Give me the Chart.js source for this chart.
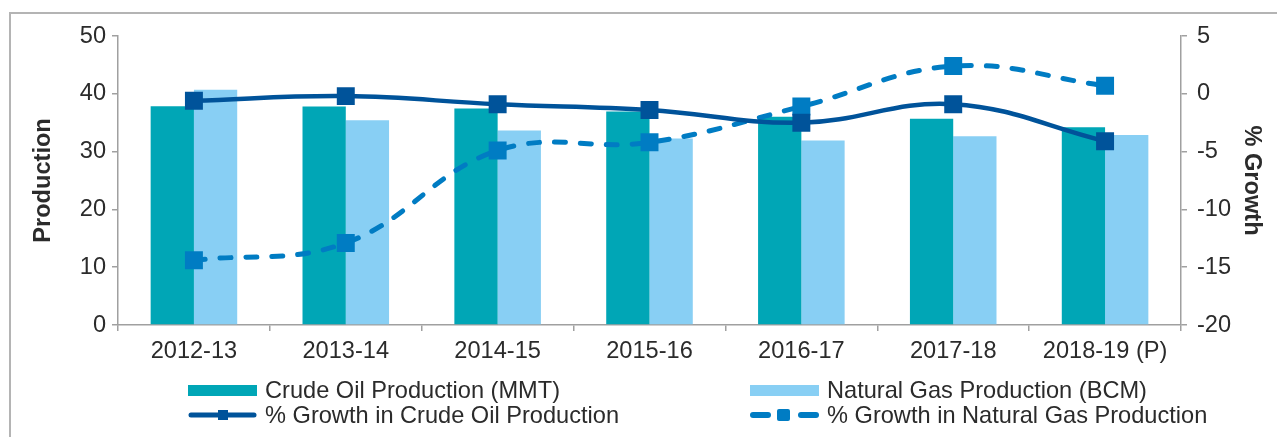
<!DOCTYPE html>
<html>
<head>
<meta charset="utf-8">
<script src="https://cdn.jsdelivr.net/npm/chart.js@4"></script>
<style>
  html, body { margin: 0; padding: 0; background: #fff; overflow: hidden; }
  #wrap { position: relative; width: 1277px; height: 437px; font-family: "Liberation Sans", Arial, sans-serif; color: #2b2b2b; }
  #frame { position: absolute; left: 9px; top: 12px; width: 1400px; height: 600px; border: 2px solid #b4b4b4; box-sizing: border-box; }
  #myChart { position: absolute; left: 0; top: 0; }
  .leg { position: absolute; font-size: 23.6px; line-height: 26px; white-space: nowrap; }
  .leg svg { position: absolute; left: 0; top: 0; }
  .leg span { position: absolute; left: 77px; top: 0; }
</style>
</head>
<body>
<div id="wrap">
  <div id="frame"></div>
  <canvas id="myChart" width="1277" height="437"></canvas>
  <div class="leg" style="left:188px; top:377px;">
    <svg width="72" height="26"><rect x="0" y="8" width="69" height="11" fill="#00a6b6"/></svg>
    <span>Crude Oil Production (MMT)</span>
  </div>
  <div class="leg" style="left:750px; top:377px;">
    <svg width="72" height="26"><rect x="0" y="8" width="69" height="11" fill="#88cff4"/></svg>
    <span>Natural Gas Production (BCM)</span>
  </div>
  <div class="leg" style="left:188px; top:402px;">
    <svg width="72" height="26"><line x1="3" y1="13" x2="66" y2="13" stroke="#00539a" stroke-width="5" stroke-linecap="round"/><rect x="30" y="8" width="10" height="10" fill="#00539a"/></svg>
    <span>% Growth in Crude Oil Production</span>
  </div>
  <div class="leg" style="left:750px; top:402px;">
    <svg width="72" height="26"><line x1="3" y1="13" x2="18" y2="13" stroke="#007cc3" stroke-width="6" stroke-linecap="round"/><rect x="27" y="7" width="13" height="12" rx="2" fill="#007cc3"/><line x1="51" y1="13" x2="66" y2="13" stroke="#007cc3" stroke-width="6" stroke-linecap="round"/></svg>
    <span>% Growth in Natural Gas Production</span>
  </div>
</div>
<script>
var years = ['2012-13', '2013-14', '2014-15', '2015-16', '2016-17', '2017-18', '2018-19 (P)'];
var crudeOil = [37.86, 37.79, 37.46, 36.94, 36.01, 35.68, 34.20];
var naturalGas = [40.68, 35.41, 33.66, 32.25, 31.90, 32.65, 32.87];
var crudeGrowth = [-0.6, -0.2, -0.9, -1.4, -2.5, -0.9, -4.1];
var gasGrowth = [-14.4, -12.9, -4.9, -4.2, -1.1, 2.4, 0.7];

var textColor = '#2b2b2b';
var axisColor = '#a0a0a0';
var font = { family: '"Liberation Sans", Arial, sans-serif', size: 23.6 };

var ctx = document.getElementById('myChart').getContext('2d');

var myChart = new Chart(ctx, {
    data: {
        labels: years,
        datasets: [{
            type: 'line',
            label: '% Growth in Crude Oil Production',
            data: crudeGrowth,
            yAxisID: 'y1',
            borderColor: '#00539a',
            backgroundColor: '#00539a',
            borderWidth: 4.5,
            tension: 0.4,
            pointStyle: 'rect',
            pointRadius: 12.7,
            pointBorderWidth: 0,
            order: 0
        }, {
            type: 'line',
            label: '% Growth in Natural Gas Production',
            data: gasGrowth,
            yAxisID: 'y1',
            borderColor: '#007cc3',
            backgroundColor: '#007cc3',
            borderWidth: 5,
            borderDash: [11, 15],
            borderCapStyle: 'round',
            tension: 0.4,
            pointStyle: 'rect',
            pointRadius: 12.7,
            pointBorderWidth: 0,
            order: 1
        }, {
            type: 'bar',
            label: 'Crude Oil Production (MMT)',
            data: crudeOil,
            yAxisID: 'y',
            backgroundColor: '#00a6b6',
            categoryPercentage: 0.57,
            barPercentage: 1.0,
            order: 2
        }, {
            type: 'bar',
            label: 'Natural Gas Production (BCM)',
            data: naturalGas,
            yAxisID: 'y',
            backgroundColor: '#88cff4',
            categoryPercentage: 0.57,
            barPercentage: 1.0,
            order: 3
        }]
    },
    options: {
        responsive: false,
        animation: false,
        layout: { padding: { top: 36, left: 0, right: 0, bottom: 0 } },
        plugins: {
            legend: { display: false },
            tooltip: { enabled: false }
        },
        scales: {
            x: {
                offset: true,
                grid: {
                    offset: true,
                    drawOnChartArea: false,
                    tickLength: 6,
                    color: axisColor,
                    lineWidth: 1.5
                },
                border: { display: true, color: axisColor, width: 1.5, dash: [7, 4] },
                ticks: { color: textColor, font: font, padding: 6, maxRotation: 0 },
                afterFit: function(scale) { scale.height = 112; }
            },
            y: {
                position: 'left',
                min: 0,
                max: 50,
                ticks: { stepSize: 10, color: textColor, font: font, padding: 6 },
                grid: { drawOnChartArea: false, tickLength: 6, color: axisColor, lineWidth: 1.5 },
                border: { display: true, color: axisColor, width: 1.5 },
                title: {
                    display: true,
                    text: 'Production',
                    color: textColor,
                    font: { family: font.family, size: 23.6, weight: 'bold' },
                    padding: { top: 29, bottom: 0 }
                },
                afterFit: function(scale) { scale.width = 118; }
            },
            y1: {
                position: 'right',
                min: -20,
                max: 5,
                ticks: { stepSize: 5, color: textColor, font: font, padding: 10 },
                grid: { drawOnChartArea: false, tickLength: 6, color: axisColor, lineWidth: 1.5 },
                border: { display: true, color: axisColor, width: 1.5 },
                title: {
                    display: true,
                    text: '% Growth',
                    color: textColor,
                    font: { family: font.family, size: 23.6, weight: 'bold' },
                    padding: { top: 11, bottom: 0 }
                },
                afterFit: function(scale) { scale.width = 96; }
            }
        }
    }
});
</script>
</body>
</html>
